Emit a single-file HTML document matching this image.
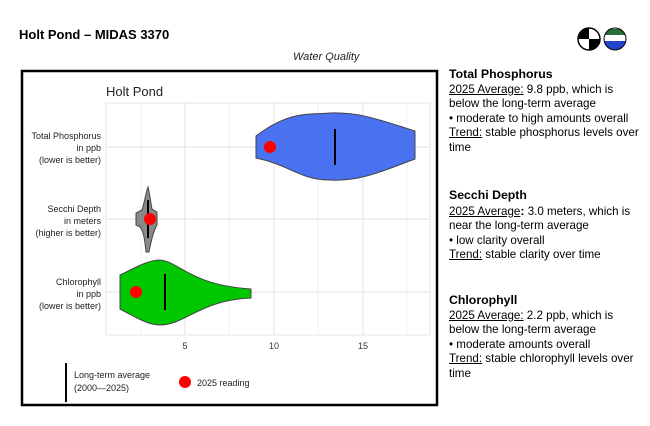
<!DOCTYPE html>
<html><head><style>
body{margin:0;width:650px;height:426px;background:#fff;font-family:"Liberation Sans",sans-serif;position:relative;overflow:hidden}
.t{position:absolute;white-space:nowrap}
.r{position:absolute;left:449px;font-size:11.6px;line-height:14.5px;color:#000}
.r b{font-size:12.3px}
u{text-decoration:underline}
</style></head><body>
<div class="t" style="left:19px;top:27px;font-size:13px;font-weight:bold">Holt Pond – MIDAS 3370</div>
<div class="t" style="left:293px;top:51px;font-size:11px;font-style:italic;color:#222">Water Quality</div>
<svg style="position:absolute;left:577px;top:27px" width="52" height="26">
<circle cx="12" cy="12" r="11" fill="#fff" stroke="#000" stroke-width="1.5"/>
<path d="M12 12 L12 1 A11 11 0 0 0 1 12 Z M12 12 L23 12 A11 11 0 0 1 12 23 Z" fill="#000"/>
<clipPath id="c"><circle cx="38" cy="12" r="11"/></clipPath>
<g clip-path="url(#c)"><rect x="26" y="0" width="24" height="24" fill="#fff"/><rect x="26" y="2" width="24" height="6" fill="#2a6b3a"/><rect x="26" y="14" width="24" height="10" fill="#2244cc"/></g>
<circle cx="38" cy="12" r="11" fill="none" stroke="#000" stroke-width="1"/>
</svg>
<svg style="position:absolute;left:0;top:0" width="445" height="426">
<rect x="22" y="71" width="415" height="334" fill="#fff" stroke="#000" stroke-width="2.5"/>
<text x="106" y="96" font-size="13" fill="#222">Holt Pond</text>
<g stroke="#ebebeb" stroke-width="0.7">
<line x1="141" y1="103" x2="141" y2="335"/><line x1="229" y1="103" x2="229" y2="335"/><line x1="318" y1="103" x2="318" y2="335"/><line x1="407" y1="103" x2="407" y2="335"/>
</g>
<g stroke="#e6e6e6" stroke-width="1.2">
<line x1="185" y1="103" x2="185" y2="335"/><line x1="274" y1="103" x2="274" y2="335"/><line x1="363" y1="103" x2="363" y2="335"/>
<line x1="106" y1="147" x2="430" y2="147"/><line x1="106" y1="219" x2="430" y2="219"/><line x1="106" y1="292" x2="430" y2="292"/>
</g>
<rect x="106" y="103" width="324" height="232" fill="none" stroke="#e6e6e6" stroke-width="1"/>
<path d="M256 136 C290 110,310 115,330 113 C360 112,380 120,415 131 L415 159 C385 170,360 182,330 180 C300 180,290 165,256 158 Z" fill="#4a72f0" stroke="#444" stroke-width="1"/>
<line x1="335" y1="129" x2="335" y2="165" stroke="#000" stroke-width="2"/>
<circle cx="270" cy="147" r="6" fill="#f00"/>
<path d="M148 187 C150 195,151 205,152 209 L157 212 L157 225 C153 232,151 242,149 252 L146 252 C145 242,144 232,140 227 L136 225 L136 213 L142 210 C145 200,146 192,148 187 Z" fill="#888" stroke="#444" stroke-width="1"/>
<line x1="148" y1="200" x2="148" y2="238" stroke="#000" stroke-width="2"/>
<circle cx="150" cy="219" r="6" fill="#f00"/>
<path d="M120 275 C140 265,150 260,160 260 C180 262,190 285,251 289 L251 298 C200 300,185 325,160 325 C150 325,140 320,120 309 Z" fill="#00c800" stroke="#444" stroke-width="1"/>
<line x1="165" y1="274" x2="165" y2="310" stroke="#000" stroke-width="2"/>
<circle cx="136" cy="292" r="6" fill="#f00"/>
<g font-size="9" fill="#222" text-anchor="end">
<text x="101" y="139">Total Phosphorus</text><text x="101" y="151">in ppb</text><text x="101" y="163">(lower is better)</text>
<text x="101" y="212">Secchi Depth</text><text x="101" y="224">in meters</text><text x="101" y="236">(higher is better)</text>
<text x="101" y="285">Chlorophyll</text><text x="101" y="297">in ppb</text><text x="101" y="309">(lower is better)</text>
</g>
<g font-size="9" fill="#333" text-anchor="middle"><text x="185" y="349">5</text><text x="274" y="349">10</text><text x="363" y="349">15</text></g>
<line x1="66" y1="363" x2="66" y2="402" stroke="#000" stroke-width="2"/>
<text x="74" y="378" font-size="9" fill="#222">Long-term average</text>
<text x="74" y="391" font-size="9" fill="#222">(2000—2025)</text>
<circle cx="185" cy="382" r="6" fill="#f00"/>
<text x="197" y="386" font-size="9" fill="#222">2025 reading</text>
</svg>
<div class="r" style="top:67px"><b>Total Phosphorus</b><br><u>2025 Average:</u> 9.8 ppb, which is<br>below the long-term average<br>• moderate to high amounts overall<br><u>Trend:</u> stable phosphorus levels over<br>time</div>
<div class="r" style="top:188px"><b>Secchi Depth</b><br><u>2025 Average</u><b>:</b> 3.0 meters, which is<br>near the long-term average<br>• low clarity overall<br><u>Trend:</u> stable clarity over time</div>
<div class="r" style="top:293px"><b>Chlorophyll</b><br><u>2025 Average:</u> 2.2 ppb, which is<br>below the long-term average<br>• moderate amounts overall<br><u>Trend:</u> stable chlorophyll levels over<br>time</div>
</body></html>
